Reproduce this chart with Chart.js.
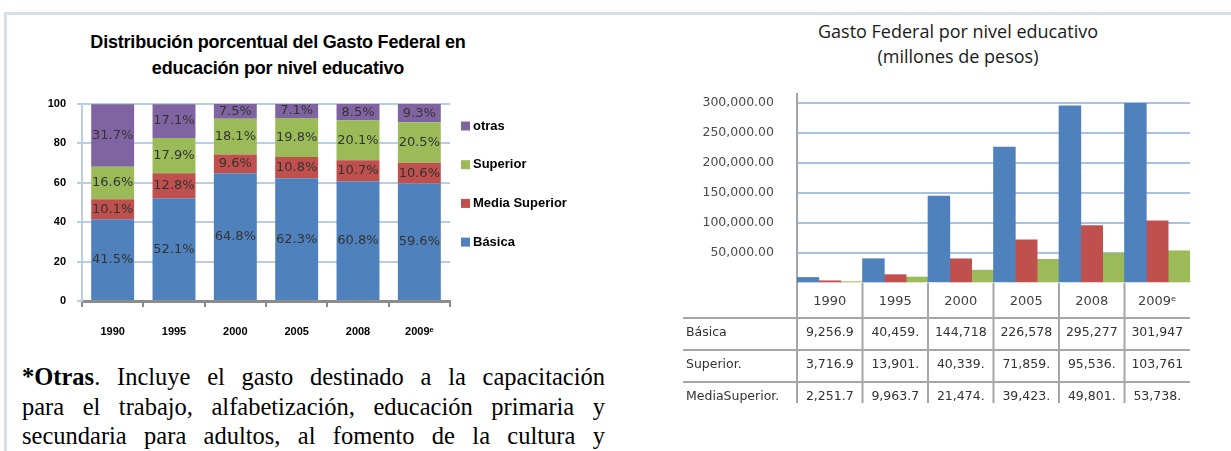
<!DOCTYPE html>
<html><head><meta charset="utf-8">
<script src="https://cdn.jsdelivr.net/npm/chart.js@4.4.1/dist/chart.umd.min.js"></script>
<style>
html,body{margin:0;padding:0;background:#fff;}
body{width:1231px;height:451px;overflow:hidden;position:relative;}
.frameTop{position:absolute;left:4px;top:12px;width:1227px;height:3px;background:#d6e0ea;}
.frameLeft{position:absolute;left:4px;top:12px;width:3px;height:439px;background:#d6e0ea;}
#c1{position:absolute;left:0;top:0;}
#c2{position:absolute;left:640px;top:0;}
.t1{position:absolute;left:0;width:556px;top:29px;text-align:center;font:bold 18px "Liberation Sans",Arial,sans-serif;line-height:26px;color:#000;letter-spacing:-0.2px;}
.t2{position:absolute;left:760px;width:396px;top:19px;text-align:center;font:18px "Open Sans",sans-serif;line-height:25px;color:#1a1a1a;}
.note{position:absolute;left:22px;top:362px;width:583px;font:24.5px "Liberation Serif","Times New Roman",serif;line-height:29.5px;color:#000;text-align:justify;text-align-last:justify;white-space:nowrap;}
</style>
</head>
<body>
<div class="frameTop"></div><div class="frameLeft"></div>
<div class="t1">Distribución porcentual del Gasto Federal en<br>educación por nivel educativo</div>
<div class="t2">Gasto Federal por nivel educativo<br>(millones de pesos)</div>
<canvas id="c1" width="620" height="350"></canvas>
<canvas id="c2" width="591" height="403"></canvas>
<div class="note"><b>*Otras</b>. Incluye el gasto destinado a la capacitación<br>para el trabajo, alfabetización, educación primaria y<br>secundaria para adultos, al fomento de la cultura y</div>
<script>
// ---- data ----
const years = ['1990', '1995', '2000', '2005', '2008', '2009ᵉ'];
const pctBasica = [41.5, 52.1, 64.8, 62.3, 60.8, 59.6];
const pctMediaSuperior = [10.1, 12.8, 9.6, 10.8, 10.7, 10.6];
const pctSuperior = [16.6, 17.9, 18.1, 19.8, 20.1, 20.5];
const pctOtras = [31.7, 17.1, 7.5, 7.1, 8.5, 9.3];
const gastoBasica = [9256.9, 40459.0, 144718.0, 226578.0, 295277.0, 301947.0];
const gastoSuperior = [3716.9, 13901.0, 40339.0, 71859.0, 95536.0, 103761.0];
const gastoMediaSuperior = [2251.7, 9963.7, 21474.0, 39423.0, 49801.0, 53738.0];
const tableRowLabels = ['Básica', 'Superior.', 'MediaSuperior.'];

const BLUE = '#4f81bd', RED = '#c0504d', GREEN = '#9bbb59', PURPLE = '#8064a2';
Chart.defaults.font.family = '"DejaVu Sans", sans-serif';
Chart.defaults.animation = false;

// ---- left chart plugins ----
const pctLabels = {
  id: 'pctLabels',
  afterDatasetsDraw(chart) {
    const ctx = chart.ctx;
    ctx.save();
    ctx.font = '13px "DejaVu Sans"';
    ctx.fillStyle = '#333';
    ctx.textAlign = 'center';
    ctx.textBaseline = 'middle';
    chart.data.datasets.forEach((ds, i) => {
      chart.getDatasetMeta(i).data.forEach((bar, j) => {
        ctx.fillText(ds.data[j].toFixed(1) + '%', bar.x, (bar.y + bar.base) / 2);
      });
    });
    ctx.restore();
  }
};
const sideLegend = {
  id: 'sideLegend',
  afterDraw(chart) {
    const ctx = chart.ctx, a = chart.chartArea;
    const idx = chart.data.datasets.map((d, i) => i).reverse();
    ctx.save();
    ctx.font = 'bold 13px "Liberation Sans"';
    ctx.textBaseline = 'middle';
    ctx.textAlign = 'left';
    idx.forEach((i, k) => {
      const ds = chart.data.datasets[i];
      const y = a.top + 22 + k * 38.7;
      ctx.fillStyle = ds.backgroundColor;
      ctx.fillRect(a.right + 11, y - 4.5, 9, 9);
      ctx.fillStyle = '#000';
      ctx.fillText(ds.label, a.right + 23, y);
    });
    ctx.restore();
  }
};

new Chart(document.getElementById('c1'), {
  type: 'bar',
  data: {
    labels: years,
    datasets: [
      { label: 'Básica', data: pctBasica, backgroundColor: BLUE },
      { label: 'Media Superior', data: pctMediaSuperior, backgroundColor: RED },
      { label: 'Superior', data: pctSuperior, backgroundColor: GREEN },
      { label: 'otras', data: pctOtras, backgroundColor: PURPLE }
    ]
  },
  options: {
    responsive: false,
    devicePixelRatio: 1,
    layout: { padding: { top: 104, left: 0, right: 170, bottom: 9 } },
    plugins: { legend: { display: false }, tooltip: { enabled: false } },
    datasets: { bar: { barPercentage: 0.7, categoryPercentage: 1 } },
    scales: {
      x: {
        stacked: true,
        afterFit(s) { s.height = 40; },
        grid: { drawOnChartArea: false, tickLength: 6, color: '#8c8c8c', lineWidth: 2 },
        border: { color: '#8c8c8c', width: 3 },
        ticks: { font: { family: '"Liberation Sans"', weight: 'bold', size: 11 }, color: '#000', padding: 18, maxRotation: 0 }
      },
      y: {
        stacked: true, min: 0, max: 100,
        afterFit(s) { s.width = 82; },
        grid: { color: '#b9cde5', lineWidth: 2, tickLength: 5 },
        border: { color: '#b9cde5', width: 2 },
        ticks: { stepSize: 20, font: { family: '"Liberation Sans"', weight: 'bold', size: 11 }, color: '#000', padding: 11 }
      }
    }
  },
  plugins: [pctLabels, sideLegend]
});

// ---- right chart ----
const dataTable = {
  id: 'dataTable',
  afterDraw(chart) {
    const ctx = chart.ctx, a = chart.chartArea;
    const n = chart.data.labels.length, w = (a.right - a.left) / n;
    const headerBottom = a.bottom + 35, rowH = 32;
    ctx.save();
    ctx.strokeStyle = '#a6a6a6';
    ctx.lineWidth = 2;
    ctx.beginPath();
    ctx.moveTo(a.left, a.top - 10); ctx.lineTo(a.left, a.top);
    for (let i = 0; i < n; i++) {
      const x = a.left + i * w;
      ctx.moveTo(x, a.bottom); ctx.lineTo(x, chart.height);
    }
    for (let r = 0; r < 3; r++) {
      const y = headerBottom + r * rowH;
      ctx.moveTo(43, y); ctx.lineTo(a.right, y);
    }
    ctx.stroke();
    ctx.font = '12.5px "DejaVu Sans"';
    ctx.fillStyle = '#333';
    ctx.textBaseline = 'middle';
    chart.data.datasets.forEach((ds, r) => {
      const y = headerBottom + r * rowH + rowH / 2 - 1;
      ctx.textAlign = 'left';
      ctx.fillText(tableRowLabels[r], 46, y);
      ctx.textAlign = 'center';
      ds.data.forEach((v, j) => {
        const s = v.toLocaleString('en-US', { minimumFractionDigits: 1, maximumFractionDigits: 1 }).slice(0, 7);
        ctx.fillText(s, a.left + (j + 0.5) * w, y);
      });
    });
    ctx.restore();
  }
};

new Chart(document.getElementById('c2'), {
  type: 'bar',
  data: {
    labels: years,
    datasets: [
      { label: 'Básica', data: gastoBasica, backgroundColor: BLUE },
      { label: 'Superior', data: gastoSuperior, backgroundColor: RED },
      { label: 'MediaSuperior', data: gastoMediaSuperior, backgroundColor: GREEN }
    ]
  },
  options: {
    responsive: false,
    devicePixelRatio: 1,
    layout: { padding: { top: 103, left: 0, right: 41, bottom: 0 } },
    plugins: { legend: { display: false }, tooltip: { enabled: false } },
    datasets: { bar: { barPercentage: 1, categoryPercentage: 1 } },
    scales: {
      x: {
        afterFit(s) { s.height = 120; },
        grid: { display: false },
        border: { display: false },
        ticks: { font: { size: 13 }, color: '#404040', padding: 3, maxRotation: 0 }
      },
      y: {
        min: 0, max: 300000,
        afterFit(s) { s.width = 157; },
        grid: { color: (c) => c.tick && c.tick.value === 0 ? 'rgba(0,0,0,0)' : '#a9c1e0', lineWidth: 2, drawTicks: false },
        border: { color: '#a6a6a6', width: 2 },
        ticks: {
          stepSize: 50000, padding: 23, color: '#4a4a4a', font: { size: 12.5 },
          callback: (v) => v === 0 ? '' : v.toLocaleString('en-US', { minimumFractionDigits: 2, maximumFractionDigits: 2 })
        }
      }
    }
  },
  plugins: [dataTable]
});
</script>
</body></html>
